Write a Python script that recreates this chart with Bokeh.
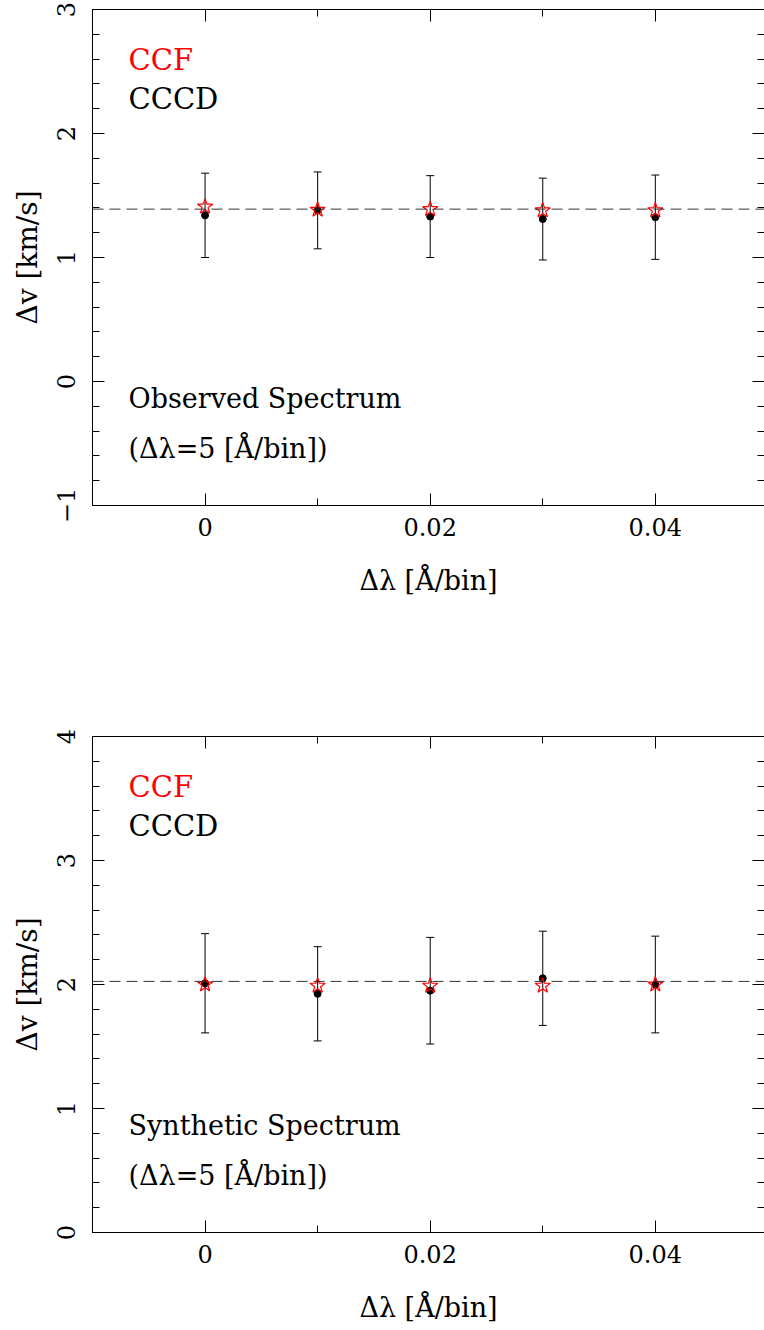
from bokeh.plotting import figure
from bokeh.layouts import column
from bokeh.models import (LinearAxis, FixedTicker, Span, Whisker, ColumnDataSource,
                          Label, TeeHead, Range1d)
from bokeh.embed import file_html
from bokeh.resources import INLINE

# ---------------- data ----------------
x_vals = [0.0, 0.01, 0.02, 0.03, 0.04]

obs_ccf = [1.41, 1.385, 1.39, 1.38, 1.38]
obs_cccd = [1.34, 1.38, 1.33, 1.31, 1.325]
obs_err = [0.34, 0.31, 0.33, 0.33, 0.34]
obs_ref = 1.39

syn_ccf = [2.0, 1.99, 1.99, 1.99, 2.0]
syn_cccd = [2.01, 1.925, 1.95, 2.05, 2.0]
syn_err = [0.40, 0.38, 0.43, 0.38, 0.39]
syn_ref = 2.025

x_major = [0.0, 0.02, 0.04]
x_minor = [-0.01, 0.01, 0.03, 0.05]
x_tick_labels = {0.0: "0", 0.02: "0.02", 0.04: "0.04"}

FONT = "DejaVu Serif"


def style_axis(ax, ticks, minor, overrides=None, show_labels=True, show_line=True):
    ax.ticker = FixedTicker(ticks=ticks, minor_ticks=minor)
    ax.major_tick_in = 12
    ax.major_tick_out = 0
    ax.minor_tick_in = 7
    ax.minor_tick_out = 0
    ax.major_tick_line_color = "black"
    ax.minor_tick_line_color = "black"
    ax.axis_line_color = "black" if show_line else None
    ax.major_label_text_font = FONT
    ax.major_label_text_color = "black"
    ax.axis_label_text_font = FONT
    ax.axis_label_text_font_style = "normal"
    ax.axis_label_text_color = "black"
    if overrides:
        ax.major_label_overrides = overrides
    if not show_labels:
        ax.major_label_overrides = {t: "" for t in ticks}
        ax.major_label_text_font_size = "1px"
        ax.major_label_standoff = 0


def make_panel(ccf, cccd, err, ref, y_lo, y_hi, title, border_top, border_bottom):
    p = figure(width=764, height=665,
               x_range=Range1d(-0.01, 0.0497), y_range=Range1d(y_lo, y_hi),
               output_backend="svg", toolbar_location=None,
               min_border_left=92, min_border_right=0,
               min_border_top=border_top, min_border_bottom=border_bottom)
    p.outline_line_color = None
    p.xgrid.visible = False
    p.ygrid.visible = False
    p.background_fill_color = "white"

    y_major = list(range(int(y_lo), int(y_hi) + 1))
    y_minor = [y_lo + 0.2 * i for i in range(int((y_hi - y_lo) * 5) + 1)]
    y_over = {v: (("\u2212" + str(abs(v))) if v < 0 else str(v)) for v in y_major}

    xa = p.xaxis[0]
    style_axis(xa, x_major, x_minor, x_tick_labels)
    xa.axis_label = "\u0394\u03bb [\u00c5/bin]"
    xa.major_label_text_font_size = "24px"
    xa.axis_label_text_font_size = "27px"
    xa.major_label_standoff = 12
    xa.axis_label_standoff = 26

    ya = p.yaxis[0]
    style_axis(ya, y_major, y_minor, y_over)
    ya.axis_label = "\u0394v [km/s]"
    ya.major_label_orientation = "vertical"
    ya.major_label_text_font_size = "24px"
    ya.axis_label_text_font_size = "28px"
    ya.major_label_standoff = 18
    ya.axis_label_standoff = 10

    top = LinearAxis()
    style_axis(top, x_major, x_minor, show_labels=False)
    p.add_layout(top, "above")
    right = LinearAxis()
    style_axis(right, y_major, y_minor, show_labels=False, show_line=False)
    p.add_layout(right, "right")

    p.add_layout(Span(location=ref, dimension="width", line_color="#333333",
                      line_width=1, line_dash="11 6"))

    src = ColumnDataSource(dict(
        x=x_vals, ccf=ccf, cccd=cccd,
        lo=[c - e for c, e in zip(cccd, err)],
        hi=[c + e for c, e in zip(cccd, err)]))

    p.add_layout(Whisker(source=src, base="x", lower="lo", upper="hi",
                         line_color="black", line_width=1,
                         upper_head=TeeHead(size=8, line_color="black", line_width=1),
                         lower_head=TeeHead(size=8, line_color="black", line_width=1)))

    p.scatter("x", "cccd", source=src, marker="circle", size=7,
              fill_color="black", line_color="black")
    p.scatter("x", "ccf", source=src, marker="star", size=16,
              fill_color=None, line_color="red", line_width=1.2)

    p.add_layout(Label(x=-0.0068, y=y_hi - 0.41, text="CCF", text_color="red",
                       text_font=FONT, text_font_size="29px",
                       text_baseline="alphabetic"))
    p.add_layout(Label(x=-0.0068, y=y_hi - 0.72, text="CCCD", text_color="black",
                       text_font=FONT, text_font_size="29px",
                       text_baseline="alphabetic"))
    p.add_layout(Label(x=-0.0068, y=y_lo + 0.865, text=title, text_color="black",
                       text_font=FONT, text_font_size="27px",
                       text_baseline="alphabetic"))
    p.add_layout(Label(x=-0.0068, y=y_lo + 0.46,
                       text="(\u0394\u03bb=5 [\u00c5/bin])", text_color="black",
                       text_font=FONT, text_font_size="27px",
                       text_baseline="alphabetic"))
    return p


p1 = make_panel(obs_ccf, obs_cccd, obs_err, obs_ref, -1, 3,
                "Observed Spectrum", 9, 160)
p2 = make_panel(syn_ccf, syn_cccd, syn_err, syn_ref, 0, 4,
                "Synthetic Spectrum", 71, 98)

layout = column(p1, p2, spacing=0)
open("out.html", "w").write(file_html(layout, INLINE))
